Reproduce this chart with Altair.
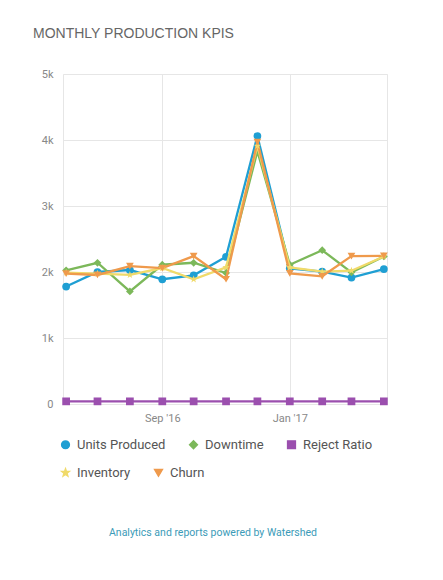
import altair as alt
import pandas as pd

months = ["2016-06-01", "2016-07-01", "2016-08-01", "2016-09-01", "2016-10-01",
          "2016-11-01", "2016-12-01", "2017-01-01", "2017-02-01", "2017-03-01",
          "2017-04-01"]
series_names = ["Units Produced", "Downtime", "Reject Ratio", "Inventory", "Churn"]
units_produced = [1780, 2000, 2030, 1890, 1950, 2230, 4060, 2055, 2005, 1915, 2045]
downtime = [2025, 2140, 1705, 2110, 2140, 1985, 3830, 2110, 2330, 1995, 2235]
reject_ratio = [40, 40, 40, 40, 40, 40, 40, 40, 40, 40, 40]
inventory = [1990, 1975, 1955, 2060, 1890, 2070, 3910, 2070, 2005, 2020, 2235]
churn = [1975, 1955, 2090, 2060, 2240, 1890, 3970, 1980, 1935, 2240, 2245]
colors = ["#1f9fd3", "#7cb85a", "#9b4fae", "#f0da6a", "#ef9a4c"]
star = "M0,-1L0.24,-0.33L0.95,-0.31L0.39,0.13L0.59,0.81L0,0.41L-0.59,0.81L-0.39,0.13L-0.95,-0.31L-0.24,-0.33Z"
shapes = ["circle", "diamond", "square", star, "triangle-down"]
y_ticks = [0, 1000, 2000, 3000, 4000, 5000]

values = [units_produced, downtime, reject_ratio, inventory, churn]
rows = []
for name, vals in zip(series_names, values):
    for m, v in zip(months, vals):
        rows.append({"month": m, "series": name, "value": v})
df = pd.DataFrame(rows)

x_enc = alt.X(
    "month:T",
    scale=alt.Scale(domain=["2016-05-29", "2017-04-04"]),
    axis=alt.Axis(
        title=None,
        values=[alt.DateTime(year=2016, month=9, date=1), alt.DateTime(year=2017, month=1, date=1)],
        format="%b '%y",
        labelColor="#888888",
        labelFontSize=11,
        labelFont="Roboto",
        labelPadding=8,
        domain=False,
        ticks=False,
        gridColor="#e6e6e6",
    ),
)
y_enc = alt.Y(
    "value:Q",
    scale=alt.Scale(domain=[0, 5000], nice=False),
    axis=alt.Axis(
        title=None,
        values=y_ticks,
        labelExpr="datum.value == 0 ? '0' : format(datum.value / 1000, 'd') + 'k'",
        labelColor="#888888",
        labelFontSize=11,
        labelFont="Roboto",
        labelPadding=10,
        domain=False,
        ticks=False,
        gridColor="#e6e6e6",
    ),
)


def group(names, legend_y):
    idx = [series_names.index(n) for n in names]
    legend = alt.Legend(
        title=None,
        orient="none",
        direction="horizontal",
        legendX=-4,
        legendY=legend_y,
        columnPadding=20,
        labelFont="Roboto",
        labelFontSize=13,
        labelColor="#555555",
        symbolSize=60,
        labelOffset=5,
    )
    color_enc = alt.Color(
        "series:N",
        scale=alt.Scale(domain=names, range=[colors[i] for i in idx]),
        legend=legend,
        sort=names,
    )
    shape_enc = alt.Shape(
        "series:N",
        scale=alt.Scale(domain=names, range=[shapes[i] for i in idx]),
        legend=legend,
        sort=names,
    )
    base = alt.Chart(df).transform_filter(alt.FieldOneOfPredicate(field="series", oneOf=names))
    lines = base.mark_line(strokeWidth=2.3).encode(x=x_enc, y=y_enc, color=color_enc, detail="series:N")
    points = base.mark_point(filled=True, size=60, opacity=1).encode(
        x=x_enc, y=y_enc, color=color_enc, shape=shape_enc
    )
    return alt.layer(lines, points)


group_a = group(["Units Produced", "Downtime", "Reject Ratio"], 364)
group_b = group(["Inventory", "Churn"], 392)

footer = alt.Chart(pd.DataFrame({"t": ["Analytics and reports powered by Watershed"]})).mark_text(
    font="Roboto", fontSize=10.5, color="#3b9bb8", align="center"
).encode(text="t:N", x=alt.value(150), y=alt.value(459))

chart = (
    alt.layer(group_a, group_b, footer)
    .resolve_scale(color="independent", shape="independent")
    .properties(
        width=324,
        height=330,
        autosize=alt.AutoSizeParams(type="none"),
        padding={"left": 63, "top": 74, "right": 56, "bottom": 176},
        background="white",
        title=alt.TitleParams(
            "MONTHLY PRODUCTION KPIS",
            anchor="start",
            frame="group",
            dx=-30,
            offset=27,
            font="Liberation Sans",
            fontSize=14,
            fontWeight="normal",
            color="#666666",
        ),
    )
    .configure_view(stroke="#e6e6e6")
)

chart.save("out.html", embed_options={"renderer": "svg", "actions": False})
